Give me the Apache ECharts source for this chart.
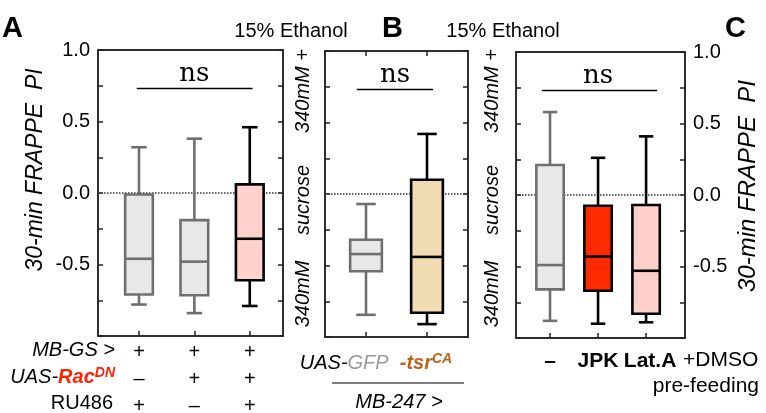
<!DOCTYPE html>
<html><head><meta charset="utf-8">
<script src="https://cdn.jsdelivr.net/npm/echarts@6/dist/echarts.min.js"></script>
<style>html,body{margin:0;padding:0;background:#fff}#c{width:766px;height:413px}</style>
</head><body><div id="c"></div>
<script>
// ---------- DATA ----------
// Panel A: [min, Q1, median, Q3, max]
const groupsA = ['RU486 only', 'UAS-RacDN only', 'RacDN + RU486'];
const statsA = [
  [-0.78, -0.71, -0.46, -0.01, 0.32],
  [-0.84, -0.715, -0.48, -0.19, 0.38],
  [-0.79, -0.61, -0.32, 0.06, 0.46]
];
const rowMBGS = ['+', '+', '+'];
const rowRac  = ['–', '+', '+'];
const rowRU   = ['+', '–', '+'];
// Panel B
const groupsB = ['UAS-GFP', 'tsrCA'];
const statsB = [
  [-0.845, -0.54, -0.42, -0.32, -0.07],
  [-0.91, -0.83, -0.44, 0.10, 0.42]
];
// Panel C
const groupsC = ['–', 'JPK', 'Lat.A'];
const statsC = [
  [-0.88, -0.66, -0.49, 0.21, 0.58],
  [-0.90, -0.67, -0.43, -0.075, 0.26],
  [-0.89, -0.83, -0.53, -0.07, 0.41]
];
const yTickLabels = ['-0.5', '0.0', '0.5', '1.0'];
const sigLabel = 'ns';

// ---------- STYLE ----------
const FONT = '"Liberation Sans", Arial, Helvetica, sans-serif';
const GRAY_FILL = '#e8e8e8', GRAY_LINE = '#6f6f6f';
const fillsA = [GRAY_FILL, GRAY_FILL, '#ffd2cd'];
const linesA = [GRAY_LINE, GRAY_LINE, '#000'];
const fillsB = [GRAY_FILL, '#f1dbb3'];
const linesB = [GRAY_LINE, '#000'];
const fillsC = [GRAY_FILL, '#ff2a00', '#ffd0c9'];
const linesC = [GRAY_LINE, '#000', '#000'];

function boxRender(fills, strokes, boxW, capW) {
  return function (params, api) {
    const i = params.dataIndex;
    const x = api.value(0);
    const pMin = api.coord([x, api.value(1)]);
    const pQ1 = api.coord([x, api.value(2)]);
    const pMed = api.coord([x, api.value(3)]);
    const pQ3 = api.coord([x, api.value(4)]);
    const pMax = api.coord([x, api.value(5)]);
    const hw = api.size([boxW, 0])[0] / 2;
    const hc = api.size([capW, 0])[0] / 2;
    const cx = pMed[0];
    const ls = { stroke: strokes[i], lineWidth: 2.6, fill: null };
    return {
      type: 'group',
      children: [
        { type: 'line', shape: { x1: cx, y1: pQ3[1], x2: cx, y2: pMax[1] }, style: ls },
        { type: 'line', shape: { x1: cx, y1: pQ1[1], x2: cx, y2: pMin[1] }, style: ls },
        { type: 'line', shape: { x1: cx - hc, y1: pMax[1], x2: cx + hc, y2: pMax[1] }, style: ls },
        { type: 'line', shape: { x1: cx - hc, y1: pMin[1], x2: cx + hc, y2: pMin[1] }, style: ls },
        { type: 'rect', shape: { x: cx - hw, y: pQ3[1], width: 2 * hw, height: pQ1[1] - pQ3[1] },
          style: { fill: fills[i], stroke: strokes[i], lineWidth: 2.6 } },
        { type: 'line', shape: { x1: cx - hw, y1: pMed[1], x2: cx + hw, y2: pMed[1] }, style: ls }
      ]
    };
  };
}
function textRender(params, api) {
  const p = api.coord([api.value(0), api.value(1)]);
  return { type: 'text', x: p[0], y: p[1],
    style: { text: sigLabel, font: '26px "DejaVu Serif", "Liberation Serif", serif', fill: '#000', align: 'center', verticalAlign: 'middle' } };
}

function als() { return { color: '#222', width: 1.5 }; }
function xAx(grid, min, max, pos, ticks, label) {
  return {
    gridIndex: grid, type: 'value', min: min, max: max, position: pos,
    axisLine: { show: true, onZero: false, lineStyle: als() },
    axisTick: { show: ticks.length > 0, inside: true, length: 5, customValues: ticks, lineStyle: als() },
    axisLabel: label || { show: false },
    splitLine: { show: false }
  };
}
function yAx(grid, pos, label) {
  return {
    gridIndex: grid, type: 'value', min: -1, max: 1, interval: 0.5, position: pos,
    axisLine: { show: true, onZero: false, lineStyle: als() },
    axisTick: { show: true, inside: true, length: 5, lineStyle: als() },
    minorTick: { show: true, splitNumber: 2, length: 5, lineStyle: als() },
    axisLabel: label || { show: false },
    splitLine: { show: false }
  };
}
const yLabelFmt = (v) => { const s = v.toFixed(1); return yTickLabels.indexOf(s) >= 0 ? s : ''; };

const ranges = [[0.26, 3.6], [0.328, 2.672], [0.292, 3.81]];
function boxData(stats) { return stats.map((s, i) => [i + 1].concat(s)); }
const gridBase = { show: true, borderColor: '#222', borderWidth: 1.5, backgroundColor: 'transparent', containLabel: false, outerBoundsMode: 'none' };

const option = {
  animation: false,
  backgroundColor: '#fff',
  grid: [
    Object.assign({ left: 98, top: 50, width: 185, height: 286 }, gridBase),
    Object.assign({ left: 325, top: 51, width: 143, height: 286 }, gridBase),
    Object.assign({ left: 516, top: 52, width: 169, height: 286 }, gridBase)
  ],
  xAxis: [
    xAx(0, ranges[0][0], ranges[0][1], 'bottom', [1, 2, 3], {
      show: true, customValues: [1, 2, 3], margin: 3, color: '#000', fontFamily: FONT, fontSize: 20, lineHeight: 27,
      formatter: (v) => { const i = Math.round(v) - 1; return rowMBGS[i] + '\n' + rowRac[i] + '\n' + rowRU[i]; }
    }),
    xAx(0, ranges[0][0], ranges[0][1], 'top', []),
    xAx(1, ranges[1][0], ranges[1][1], 'bottom', [1, 2]),
    xAx(1, ranges[1][0], ranges[1][1], 'top', [1, 2]),
    xAx(2, ranges[2][0], ranges[2][1], 'bottom', [1, 2, 3], {
      show: true, customValues: [1, 2, 3], margin: 13, color: '#000', fontFamily: FONT, fontSize: 21, fontWeight: 'bold',
      formatter: (v) => { const i = Math.round(v) - 1; return i === 2 ? '{l|' + groupsC[i] + '}' : groupsC[i]; },
      rich: { l: { fontFamily: FONT, fontSize: 21, fontWeight: 'bold', color: '#000', padding: [0, 0, 0, 8] } }
    }),
    xAx(2, ranges[2][0], ranges[2][1], 'top', [])
  ],
  yAxis: [
    yAx(0, 'left', { show: true, formatter: yLabelFmt, color: '#000', fontFamily: FONT, fontSize: 20, margin: 8 }),
    yAx(0, 'right'),
    yAx(1, 'left'),
    yAx(1, 'right'),
    yAx(2, 'left'),
    yAx(2, 'right', { show: true, formatter: yLabelFmt, color: '#000', fontFamily: FONT, fontSize: 20, margin: 8 })
  ],
  series: [
    // zero dotted lines
    { type: 'line', xAxisIndex: 0, yAxisIndex: 0, data: [[ranges[0][0], 0], [ranges[0][1], 0]], symbol: 'none', z: 1,
      lineStyle: { type: 'dotted', color: '#333', width: 1.5 } },
    { type: 'line', xAxisIndex: 2, yAxisIndex: 2, data: [[ranges[1][0], 0], [ranges[1][1], 0]], symbol: 'none', z: 1,
      lineStyle: { type: 'dotted', color: '#333', width: 1.5 } },
    { type: 'line', xAxisIndex: 4, yAxisIndex: 4, data: [[ranges[2][0], 0], [ranges[2][1], 0]], symbol: 'none', z: 1,
      lineStyle: { type: 'dotted', color: '#333', width: 1.5 } },
    // boxes
    { type: 'custom', xAxisIndex: 0, yAxisIndex: 0, z: 3, data: boxData(statsA), encode: { x: 0, y: [1, 2, 3, 4, 5] },
      renderItem: boxRender(fillsA, linesA, 0.5, 0.28) },
    { type: 'custom', xAxisIndex: 2, yAxisIndex: 2, z: 3, data: boxData(statsB), encode: { x: 0, y: [1, 2, 3, 4, 5] },
      renderItem: boxRender(fillsB, linesB, 0.52, 0.32) },
    { type: 'custom', xAxisIndex: 4, yAxisIndex: 4, z: 3, data: boxData(statsC), encode: { x: 0, y: [1, 2, 3, 4, 5] },
      renderItem: boxRender(fillsC, linesC, 0.57, 0.3) },
    // significance bars
    { type: 'line', xAxisIndex: 0, yAxisIndex: 0, data: [[0.96, 0.73], [3.05, 0.73]], symbol: 'none', z: 3,
      lineStyle: { color: '#000', width: 1.5 } },
    { type: 'line', xAxisIndex: 2, yAxisIndex: 2, data: [[0.85, 0.73], [2.1, 0.73]], symbol: 'none', z: 3,
      lineStyle: { color: '#000', width: 1.5 } },
    { type: 'line', xAxisIndex: 4, yAxisIndex: 4, data: [[0.83, 0.73], [3.23, 0.73]], symbol: 'none', z: 3,
      lineStyle: { color: '#000', width: 1.5 } },
    { type: 'custom', xAxisIndex: 0, yAxisIndex: 0, z: 3, data: [[2.0, 0.83]], renderItem: textRender },
    { type: 'custom', xAxisIndex: 2, yAxisIndex: 2, z: 3, data: [[1.475, 0.83]], renderItem: textRender },
    { type: 'custom', xAxisIndex: 4, yAxisIndex: 4, z: 3, data: [[2.0, 0.83]], renderItem: textRender }
  ],
  graphic: [
    // panel letters
    { type: 'text', left: 2, top: 14, style: { text: 'A', font: 'bold 29px ' + FONT, fill: '#000' } },
    { type: 'text', left: 382, top: 14, style: { text: 'B', font: 'bold 29px ' + FONT, fill: '#000' } },
    { type: 'text', left: 725, top: 14, style: { text: 'C', font: 'bold 29px ' + FONT, fill: '#000' } },
    // titles
    { type: 'text', x: 291, y: 31, style: { text: '15% Ethanol', font: '20px ' + FONT, fill: '#000', align: 'center', verticalAlign: 'middle' } },
    { type: 'text', x: 503, y: 31, style: { text: '15% Ethanol', font: '20px ' + FONT, fill: '#000', align: 'center', verticalAlign: 'middle' } },
    // y titles
    { type: 'text', x: 36, y: 170, rotation: Math.PI / 2, style: { text: '30-min FRAPPE  PI', font: 'italic 23px ' + FONT, fill: '#000', align: 'center', verticalAlign: 'middle' } },
    { type: 'text', x: 748, y: 186, rotation: Math.PI / 2, style: { text: '30-min FRAPPE  PI', font: 'italic 24px ' + FONT, fill: '#000', align: 'center', verticalAlign: 'middle' } },
    // panel B side labels
    { type: 'text', x: 303, y: 91, rotation: Math.PI / 2, style: { text: '340mM +', font: 'italic 20px ' + FONT, fill: '#000', align: 'center', verticalAlign: 'middle' } },
    { type: 'text', x: 303, y: 200, rotation: Math.PI / 2, style: { text: 'sucrose', font: 'italic 20px ' + FONT, fill: '#000', align: 'center', verticalAlign: 'middle' } },
    { type: 'text', x: 303, y: 294, rotation: Math.PI / 2, style: { text: '340mM', font: 'italic 20px ' + FONT, fill: '#000', align: 'center', verticalAlign: 'middle' } },
    { type: 'text', x: 492, y: 91, rotation: Math.PI / 2, style: { text: '340mM +', font: 'italic 20px ' + FONT, fill: '#000', align: 'center', verticalAlign: 'middle' } },
    { type: 'text', x: 492, y: 200, rotation: Math.PI / 2, style: { text: 'sucrose', font: 'italic 20px ' + FONT, fill: '#000', align: 'center', verticalAlign: 'middle' } },
    { type: 'text', x: 492, y: 294, rotation: Math.PI / 2, style: { text: '340mM', font: 'italic 20px ' + FONT, fill: '#000', align: 'center', verticalAlign: 'middle' } },
    // panel A row labels
    { type: 'text', x: 115, y: 350, style: { text: 'MB-GS >', font: 'italic 20px ' + FONT, fill: '#000', align: 'right', verticalAlign: 'middle' } },
    { type: 'text', x: 115, y: 377, style: { text: '{n|UAS-}{r|Rac}{s|DN}', align: 'right', verticalAlign: 'middle',
      rich: { n: { font: 'italic 20px ' + FONT, fill: '#000' }, r: { font: 'italic bold 20px ' + FONT, fill: '#ff2200' },
              s: { font: 'italic bold 14px ' + FONT, fill: '#ff2200', verticalAlign: 'top', padding: [0, 0, 8, 0] } } } },
    { type: 'text', x: 113, y: 403, style: { text: 'RU486', font: '20px ' + FONT, fill: '#000', align: 'right', verticalAlign: 'middle' } },
    // panel B bottom labels
    { type: 'text', x: 376, y: 363, style: { text: '{n|UAS-}{g|GFP}{t|  -tsr}{s|CA}', align: 'center', verticalAlign: 'middle',
      rich: { n: { font: 'italic 20px ' + FONT, fill: '#000' }, g: { font: 'italic 20px ' + FONT, fill: '#9a9a9a' },
              t: { font: 'italic bold 20px ' + FONT, fill: '#b8651a' },
              s: { font: 'italic bold 14px ' + FONT, fill: '#b8651a', verticalAlign: 'top', padding: [0, 0, 8, 0] } } } },
    { type: 'line', shape: { x1: 332, y1: 383, x2: 464, y2: 383 }, style: { stroke: '#000', lineWidth: 1.2 } },
    { type: 'text', x: 399, y: 402, style: { text: 'MB-247 >', font: 'italic 20px ' + FONT, fill: '#000', align: 'center', verticalAlign: 'middle' } },
    // panel C extra labels
    { type: 'text', x: 683, y: 360, style: { text: '+DMSO', font: '21px ' + FONT, fill: '#000', align: 'left', verticalAlign: 'middle' } },
    { type: 'text', x: 759, y: 386, style: { text: 'pre-feeding', font: '21px ' + FONT, fill: '#000', align: 'right', verticalAlign: 'middle' } }
  ]
};
const chart = echarts.init(document.getElementById('c'), null, { renderer: 'canvas' });
chart.setOption(option);
</script>
</body></html>
